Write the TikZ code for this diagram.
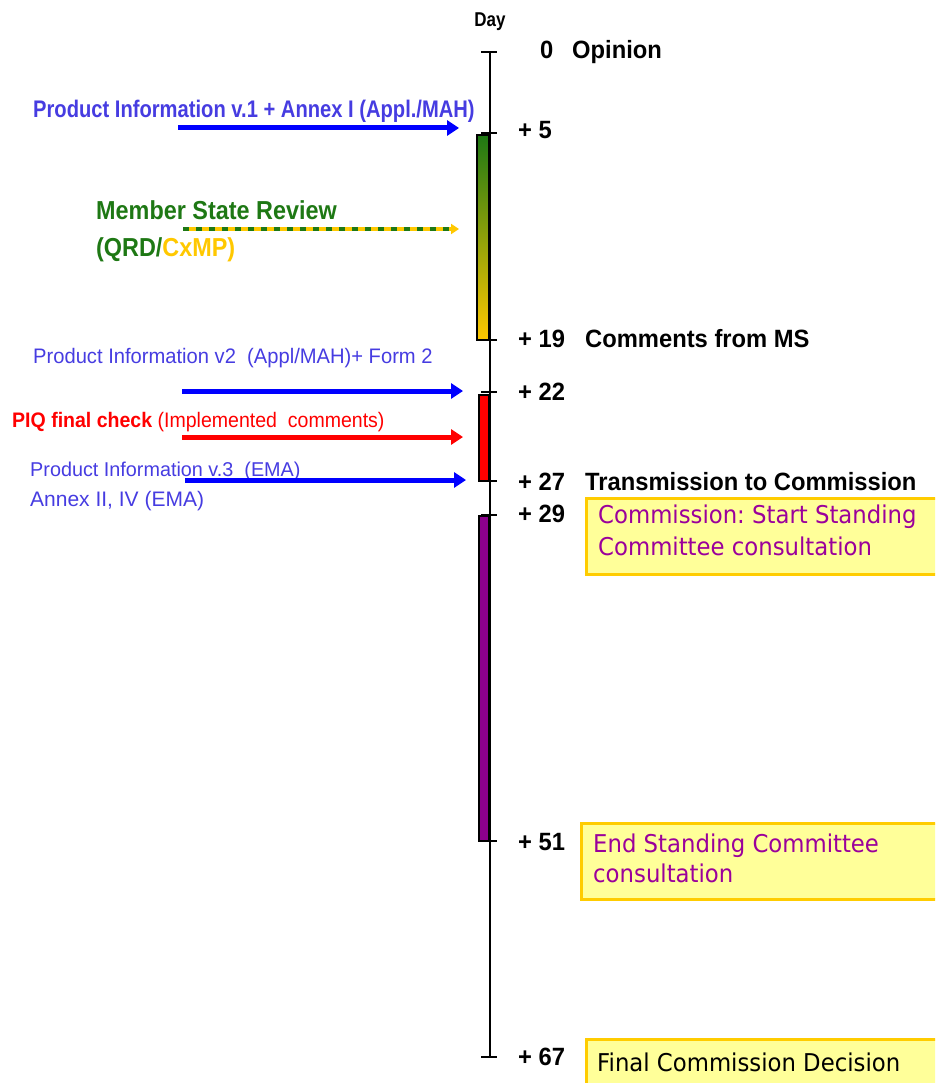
\documentclass[tikz,border=0pt]{standalone}
\usepackage{fontspec}
\usepackage{graphicx}
\setmainfont{Liberation Sans}
\newfontfamily\boxfont{DejaVu Sans}
\usetikzlibrary{arrows.meta}
\definecolor{pblue}{RGB}{0,0,255}
\definecolor{tblue}{RGB}{70,60,225}
\definecolor{msgreen}{RGB}{30,120,20}
\definecolor{gold}{RGB}{255,200,0}
\definecolor{boxfill}{RGB}{255,255,153}
\definecolor{boxedge}{RGB}{255,204,0}
\definecolor{purp}{RGB}{140,0,140}
\definecolor{ptext}{RGB}{155,0,155}
\definecolor{pred}{RGB}{255,0,0}
\newcommand{\hsq}[2]{\scalebox{#1}[1]{#2}}
\frenchspacing
\begin{document}
\begin{tikzpicture}[x=1pt,y=-1pt,
  lbl/.style={font=\fontsize{25}{29}\selectfont\bfseries, anchor=base west, inner sep=0pt},
  ltext/.style={anchor=base west, inner sep=0pt},
  fat/.style={line width=5pt, -{Triangle[length=12pt,width=15pt]}},
  cbox/.style={draw=boxedge, line width=2.5pt, fill=boxfill, anchor=north west,
     minimum width=370pt, inner sep=0pt},
  btext/.style={anchor=base west, inner sep=0pt, align=left,
     font=\boxfont\fontsize{24.5}{31}\selectfont},
  tick/.style={line width=2.5pt},
  bar/.style={draw=black, line width=2pt}
]
\useasboundingbox (0,0) rectangle (935,1083);
\clip (0,0) rectangle (935,1083);

% axis coordinates
\coordinate (d0) at (490,52);
\coordinate (d5) at (490,133);
\coordinate (d19) at (490,340);
\coordinate (d22) at (490,392);
\coordinate (d27) at (490,481);
\coordinate (d29) at (490,515);
\coordinate (d51) at (490,841);
\coordinate (d67) at (490,1057);

% bars
\shade[top color=msgreen, bottom color=gold, bar] (476.5,135) rectangle (489,340);
\fill[pred, bar] (478.5,395) rectangle (489,481);
\fill[purp, bar] (478.5,516) rectangle (489,841);

% axis
\draw[line width=2.5pt] (d0) -- (d67);
\foreach \d in {d0,d5,d19,d22,d27,d29,d51,d67}
  \draw[tick] ([xshift=-9pt]\d) -- ([xshift=7pt]\d);

% day labels
\node[font=\fontsize{20}{24}\selectfont\bfseries, anchor=base, inner sep=0pt] (day) at (490,27) {\hsq{0.85}{Day}};
\node[lbl] (n0) at (540,59) {\hsq{0.95}{0}};
\node[lbl] (op) at (572,59) {\hsq{0.95}{Opinion}};
\node[lbl] (n5) at (518,139) {\hsq{0.95}{+ 5}};
\node[lbl] (n19) at (518,347) {\hsq{0.95}{+ 19}};
\node[lbl] (cms) at (585,347) {\hsq{0.95}{Comments from MS}};
\node[lbl] (n22) at (518,400) {\hsq{0.95}{+ 22}};
\node[lbl] (n27) at (518,490) {\hsq{0.95}{+ 27}};
\node[lbl] (tc) at (585,490) {\hsq{0.95}{Transmission to Commission}};
\node[lbl] (n29) at (518,522) {\hsq{0.95}{+ 29}};
\node[lbl] (n51) at (518,850) {\hsq{0.95}{+ 51}};
\node[lbl] (n67) at (518,1065) {\hsq{0.95}{+ 67}};

% boxes
\node[cbox, minimum height=76pt] (b1) at (585,497) {};
\node[btext, text=ptext, font=\boxfont\fontsize{24.5}{32}\selectfont] (b1t) at (598,555) {\hsq{0.93}{Commission: Start Standing}\\\hsq{0.93}{Committee consultation}};
\node[cbox, minimum height=76pt] (b2) at (580,822) {};
\node[btext, text=ptext, font=\boxfont\fontsize{24.5}{30}\selectfont] (b2t) at (593,882) {\hsq{0.93}{End Standing Committee}\\\hsq{0.93}{consultation}};
\node[cbox, minimum height=60pt] (b3) at (585,1038) {};
\node[btext, text=black] (b3t) at (597,1071) {\hsq{0.93}{Final Commission Decision}};

% left texts
\node[ltext, font=\fontsize{24}{28}\selectfont\bfseries, text=tblue] (t1) at (33,118) {\hsq{0.84}{Product Information v.1 + Annex I (Appl./MAH)}};
\node[ltext, font=\fontsize{26}{30}\selectfont\bfseries, text=msgreen] (ms) at (96,220) {\hsq{0.9}{Member State Review}};
\node[ltext, font=\fontsize{26}{30}\selectfont\bfseries, text=msgreen] (qrd) at (96,256) {\hsq{0.9}{(QRD/\textcolor{gold}{CxMP)}}};
\node[ltext, font=\fontsize{21}{24}\selectfont, text=tblue] (t2) at (33,363) {\hsq{0.96}{Product Information v2\ \ (Appl/MAH)+ Form 2}};
\node[ltext, font=\fontsize{21}{24}\selectfont, text=pred] (t3) at (12,427) {\hsq{0.93}{\textbf{PIQ final check} (Implemented\ \ comments)}};
\node[ltext, font=\fontsize{20}{24}\selectfont, text=tblue] (t4) at (30,476) {\hsq{0.99}{Product Information v.3\ \ (EMA)}};
\node[ltext, font=\fontsize{21}{24}\selectfont, text=tblue] (t5) at (30,506) {Annex II, IV (EMA)};

% arrows
\coordinate (a1s) at (178,128); \coordinate (a1e) at (459,128);
\coordinate (a2s) at (182,391); \coordinate (a2e) at (463,391);
\coordinate (a3s) at (182,437); \coordinate (a3e) at (463,437);
\coordinate (a4s) at (185,480); \coordinate (a4e) at (466,480);
\coordinate (msS) at (183,229); \coordinate (msE) at (459,229);
\draw[fat, pblue] (a1s) -- (a1e);
\draw[fat, pblue] (a2s) -- (a2e);
\draw[fat, pred] (a3s) -- (a3e);
\draw[fat, pblue] (a4s) -- (a4e);
\draw[gold, line width=3.5pt, -{Triangle[length=8pt,width=10pt]}] (msS) -- (msE);
\draw[msgreen, line width=3.5pt, dash pattern=on 6pt off 7pt] (msS) -- ([xshift=-9pt]msE);
\end{tikzpicture}
\end{document}
